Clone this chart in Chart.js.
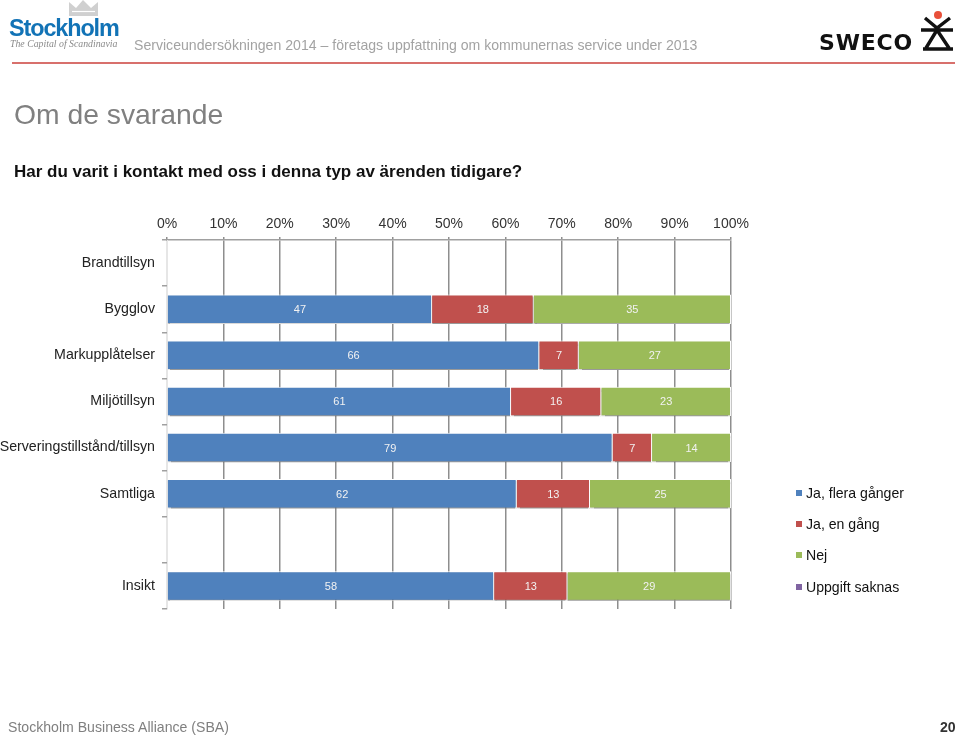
<!doctype html>
<html lang="sv">
  <head>
    <meta charset="utf-8">
    <title>Om de svarande</title>
    <script src="https://cdn.jsdelivr.net/npm/chart.js@4"></script>
    <style>
      html, body { margin: 0; padding: 0; background: #fff; }
      body { width: 960px; height: 737px; position: relative; overflow: hidden; font-family: "Liberation Sans", Arial, sans-serif; }
      canvas { position: absolute; left: 0; top: 0; }
      .t { position: absolute; white-space: nowrap; line-height: 1; }
      #rule { position: absolute; left: 12px; top: 62px; width: 943px; height: 2px; background: #d8706c; }
      #logos { position: absolute; left: 0; top: 0; }
      .leg { position: absolute; left: 796px; font-size: 14.1px; line-height: 1; color: #111; white-space: nowrap; }
      .leg i { position: absolute; left: 0; top: 4px; width: 6px; height: 6px; }
      .leg span { margin-left: 10px; }
    </style>
  </head>
  <body>
    <canvas id="myChart" width="960" height="737"></canvas>

    <svg id="logos" width="960" height="70">
      <path d="M69 2 L76 8 L83 0 L91 8 L98 2 L98 16 L69 16 Z" fill="#d0d0d0"/>
      <path d="M72 11.5 L95 11.5" stroke="#fff" stroke-width="1.2"/>
      <circle cx="938" cy="15" r="4" fill="#e8503a"/>
      <path d="M925 18 L937 28 L950 18 M921 30 L953 30 M937 30 L926 48 M937 30 L949 48 M923 49 L953 49" stroke="#111" stroke-width="3.4" fill="none"/>
    </svg>
    <div class="t" style="left:9px;top:17px;font-size:23.4px;font-weight:bold;letter-spacing:-1.1px;color:#1273b6">Stockholm</div>
    <div class="t" style="left:10px;top:39px;font-size:9.8px;font-style:italic;font-family:'Liberation Serif',serif;color:#8a8a8a">The Capital of Scandinavia</div>
    <div class="t" style="left:134px;top:38px;font-size:14.1px;color:#a3a3a3">Serviceundersökningen 2014 – företags uppfattning om kommunernas service under 2013</div>
    <div class="t" style="left:819px;top:32px;font-size:22px;font-weight:bold;letter-spacing:0.8px;font-family:'DejaVu Sans',sans-serif;color:#111">SWECO</div>
    <div id="rule"></div>

    <div class="t" style="left:14px;top:100px;font-size:28.3px;color:#808080">Om de svarande</div>
    <div class="t" style="left:14px;top:163px;font-size:17px;font-weight:bold;color:#111">Har du varit i kontakt med oss i denna typ av ärenden tidigare?</div>

    <div id="legend"></div>

    <div class="t" style="left:8px;top:720px;font-size:14.1px;color:#808080">Stockholm Business Alliance (SBA)</div>
    <div class="t" style="left:940px;top:720px;font-size:14.1px;font-weight:bold;color:#333">20</div>

    <script>
      const categories = ["Brandtillsyn", "Bygglov", "Markupplåtelser", "Miljötillsyn", "Serveringstillstånd/tillsyn", "Samtliga", "", "Insikt"];
      const jaFlera = [null, 47, 66, 61, 79, 62, null, 58];
      const jaEn = [null, 18, 7, 16, 7, 13, null, 13];
      const nej = [null, 35, 27, 23, 14, 25, null, 29];
      const saknas = [null, null, null, null, null, null, null, null];
      const seriesNames = ["Ja, flera gånger", "Ja, en gång", "Nej", "Uppgift saknas"];
      const seriesColors = ["#4f81bd", "#c0504d", "#9bbb59", "#8064a2"];
      const legendTops = [486, 517, 548, 580];

      // bar labels, drawn from the bar elements
      const barLabels = {
        id: "barLabels",
        afterDatasetsDraw(chart) {
          const ctx = chart.ctx;
          ctx.save();
          ctx.font = "11px 'Liberation Sans'";
          ctx.fillStyle = "#f2f2f2";
          ctx.textAlign = "center";
          ctx.textBaseline = "middle";
          chart.data.datasets.forEach((ds, i) => {
            chart.getDatasetMeta(i).data.forEach((bar, j) => {
              if (ds.data[j] != null) {
                ctx.fillText(ds.data[j], (bar.x + bar.base) / 2, bar.y + 1);
              }
            });
          });
          ctx.restore();
        }
      };

      // soft shadow under the bars
      const barShadow = {
        id: "barShadow",
        beforeDatasetDraw(chart) {
          const ctx = chart.ctx;
          ctx.save();
          ctx.shadowColor = "rgba(0,0,0,0.4)";
          ctx.shadowOffsetY = 2;
          ctx.shadowBlur = 1.5;
        },
        afterDatasetDraw(chart) {
          chart.ctx.restore();
        }
      };

      new Chart(document.getElementById("myChart"), {
        type: "bar",
        data: {
          labels: categories,
          datasets: seriesNames.map((name, i) => ({
            label: name,
            data: [jaFlera, jaEn, nej, saknas][i],
            backgroundColor: seriesColors[i],
            borderColor: "#fff",
            borderWidth: 1,
            barPercentage: 1,
            categoryPercentage: 0.64
          }))
        },
        options: {
          indexAxis: "y",
          responsive: false,
          animation: false,
          layout: { padding: { right: 229, bottom: 128, top: 0, left: 0 } },
          plugins: { legend: { display: false }, tooltip: { enabled: false } },
          scales: {
            x: {
              position: "top",
              stacked: true,
              min: 0,
              max: 100,
              afterFit: s => { s.height = 240; },
              grid: {
                color: c => (c.tick && c.tick.value === 0 ? "#e6e6e6" : "#8e8e8e"),
                tickColor: "#8e8e8e",
                lineWidth: 1.5,
                tickLength: 3
              },
              border: { color: "#a0a0a0", width: 1.5 },
              ticks: {
                stepSize: 10,
                maxRotation: 0,
                padding: 4,
                color: "#333",
                font: { family: "Liberation Sans", size: 14 },
                callback: v => v + "%"
              }
            },
            y: {
              stacked: true,
              afterFit: s => { s.width = 167; },
              grid: { drawOnChartArea: false, color: "#a0a0a0", lineWidth: 1.5, tickLength: 5 },
              border: { color: "#e6e6e6", width: 1 },
              ticks: {
                autoSkip: false,
                padding: 7,
                color: "#222",
                font: { family: "Liberation Sans", size: 14.2 }
              }
            }
          }
        },
        plugins: [barShadow, barLabels]
      });

      // legend
      const legend = document.getElementById("legend");
      seriesNames.forEach((name, i) => {
        const row = document.createElement("div");
        row.className = "leg";
        row.style.top = legendTops[i] + "px";
        row.innerHTML = '<i style="background:' + seriesColors[i] + '"></i><span>' + name + "</span>";
        legend.appendChild(row);
      });
    </script>
  </body>
</html>
